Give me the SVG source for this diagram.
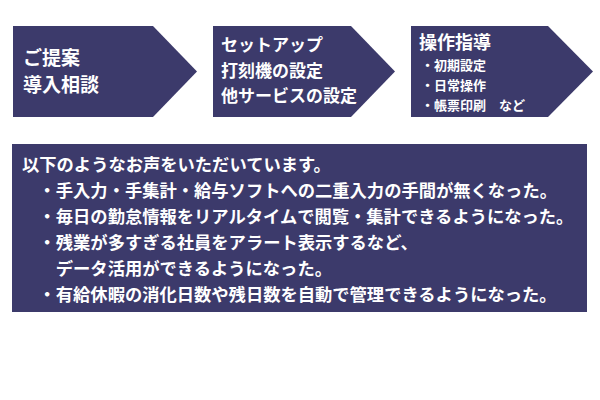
<svg xmlns="http://www.w3.org/2000/svg" width="600" height="400" viewBox="0 0 600 400">
<style>
.box{fill:#3c3a6b}
text{fill:#ffffff;font-family:"Noto Sans CJK JP","Noto Sans CJK SC",sans-serif;font-weight:bold}
.t19{font-size:19px}
.t18{font-size:18px}
.t17{font-size:17px}
.tm{font-size:17.3px}
.t13{font-size:13px}
</style>
<rect width="600" height="400" fill="#ffffff"/>
<g id="step1">
<polygon class="box" points="13,26 153,26 197,71.5 153,117 13,117"/>
<text class="t19" x="23" y="65">ご提案</text>
<text class="t19" x="23" y="92">導入相談</text>
</g>
<g id="step2">
<polygon class="box" points="213,26 351,26 395,71.5 351,117 213,117"/>
<text class="t17" x="221" y="51">セットアップ</text>
<text class="t17" x="221" y="77">打刻機の設定</text>
<text class="t17" x="221" y="102">他サービスの設定</text>
</g>
<g id="step3">
<polygon class="box" points="411,26 548,26 593,71.5 548,117 411,117"/>
<text class="t18" x="419" y="49">操作指導</text>
<text class="t13" x="421" y="69.5">・初期設定</text>
<text class="t13" x="421" y="89.5">・日常操作</text>
<text class="t13" x="421" y="109.5">・帳票印刷　など</text>
</g>
<g id="voices">
<rect class="box" x="12" y="144" width="575" height="168"/>
<text class="tm" x="22" y="171">以下のようなお声をいただいています。</text>
<text class="tm" x="38.5" y="197">・手入力・手集計・給与ソフトへの二重入力の手間が無くなった。</text>
<text class="tm" x="38.5" y="223">・毎日の勤怠情報をリアルタイムで閲覧・集計できるようになった。</text>
<text class="tm" x="38.5" y="249">・残業が多すぎる社員をアラート表示するなど、</text>
<text class="tm" x="55.8" y="275">データ活用ができるようになった。</text>
<text class="tm" x="38.5" y="301">・有給休暇の消化日数や残日数を自動で管理できるようになった。</text>
</g>
<g id="connectors"/>
</svg>
